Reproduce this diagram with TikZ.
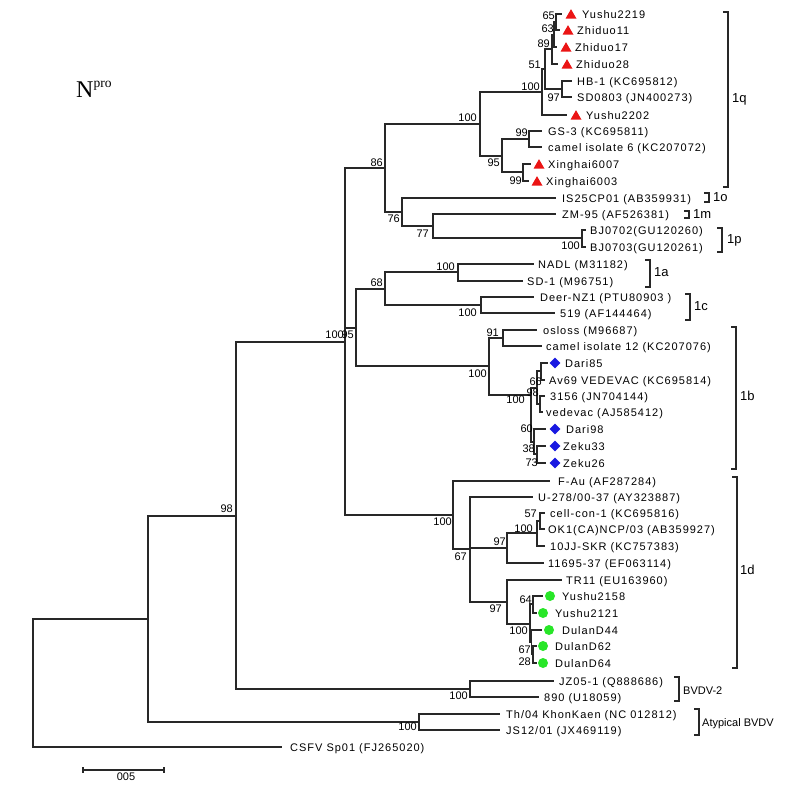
\documentclass[tikz,border=0pt]{standalone}
\usepackage{fontspec}
\setmainfont{Liberation Sans}
\newfontfamily\labfont[LetterSpace=9]{Liberation Sans}
\newfontfamily\seriffont{Liberation Serif}
\usetikzlibrary{shapes.geometric}
\definecolor{trired}{RGB}{235,20,20}
\definecolor{diablue}{RGB}{25,25,225}
\definecolor{dotgreen}{RGB}{40,230,40}
\definecolor{brcol}{RGB}{40,40,40}
\newcommand\leaf[5]{\coordinate (#1) at (#2,#3); \node[lab] (#1t) at (#4,{#3+4}) {#5};}
\begin{document}
\begin{tikzpicture}[x=1pt,y=-1pt,
  br/.style={draw=brcol, line width=1.3pt},
  lab/.style={font=\labfont\fontsize{11}{13}\selectfont, inner sep=0pt, anchor=base west},
  bs/.style={font=\fontsize{11}{13}\selectfont, inner sep=0pt, anchor=base east},
  grp/.style={font=\fontsize{13}{15}\selectfont, inner sep=0pt, anchor=base west},
  grs/.style={font=\fontsize{11}{13}\selectfont, inner sep=0pt, anchor=base west},
  tri/.style={regular polygon, regular polygon sides=3, fill=trired, inner sep=0pt, minimum size=12.7pt},
  dia/.style={diamond, fill=diablue, inner sep=0pt, minimum width=11pt, minimum height=11pt},
  gdot/.style={circle, fill=dotgreen, inner sep=0pt, minimum size=10pt}]
\useasboundingbox (0,0) rectangle (785,785);
\fill[white] (0,0) rectangle (785,785);

% title
\node[font=\seriffont\fontsize{24}{24}\selectfont, inner sep=0pt, anchor=base west] (title) at (76,97)
  {N\raisebox{9.5pt}{\fontsize{13.5}{13.5}\selectfont pro}};

% internal nodes
\coordinate (root) at (33,683);
\coordinate (nX) at (148,619);
\coordinate (nY) at (236,516);
\coordinate (nZ) at (345,342);
\coordinate (n86) at (385,168);
\coordinate (n100q) at (480,124);
\coordinate (nA) at (542,92);
\coordinate (nB) at (545,69);
\coordinate (nC) at (552,49);
\coordinate (nE) at (554,35);
\coordinate (nF) at (556,22);
\coordinate (nD) at (562,89);
\coordinate (n95) at (502,156);
\coordinate (n99a) at (529,139);
\coordinate (n99b) at (523,172);
\coordinate (n76) at (402,212);
\coordinate (n77) at (433,226);
\coordinate (n1p) at (582,238);
\coordinate (n95m) at (356,328);
\coordinate (n68) at (385,289);
\coordinate (n1a) at (458,272);
\coordinate (n1c) at (481,305);
\coordinate (n1b) at (489,366);
\coordinate (n91) at (503,338);
\coordinate (nIn) at (531,395);
\coordinate (nU) at (537,388);
\coordinate (n66) at (541,371);
\coordinate (nV) at (540,404);
\coordinate (nL) at (534,442);
\coordinate (n38) at (537,454);
\coordinate (n1d) at (453,515);
\coordinate (n67) at (470,549);
\coordinate (n97a) at (507,548);
\coordinate (n100c) at (537,533);
\coordinate (n57) at (540,521);
\coordinate (n97b) at (507,602);
\coordinate (n100g) at (530,624);
\coordinate (n64) at (533,604);
\coordinate (n67g) at (531.5,642);
\coordinate (n28) at (533,654);
\coordinate (nBV) at (470,689);
\coordinate (nAt) at (419,722);

% leaves
\leaf{l1}{562}{14}{582}{Yushu2219}
\leaf{l2}{560}{30}{577}{Zhiduo11}
\leaf{l3}{557}{47}{575}{Zhiduo17}
\leaf{l4}{558}{64}{576}{Zhiduo28}
\leaf{l5}{572}{81}{577}{HB-1 (KC695812)}
\leaf{l6}{572}{97}{577}{SD0803 (JN400273)}
\leaf{l7}{567}{115}{586}{Yushu2202}
\leaf{l8}{542}{131}{548}{GS-3 (KC695811)}
\leaf{l9}{542}{147}{548}{camel isolate 6 (KC207072)}
\leaf{l10}{531}{164}{548}{Xinghai6007}
\leaf{l11}{529}{181}{546}{Xinghai6003}
\leaf{l12}{556}{198}{562}{IS25CP01 (AB359931)}
\leaf{l13}{556}{214}{562}{ZM-95 (AF526381)}
\leaf{l14}{586}{230}{590}{BJ0702(GU120260)}
\leaf{l15}{586}{247}{590}{BJ0703(GU120261)}
\leaf{l16}{534}{264}{538}{NADL (M31182)}
\leaf{l17}{523}{281}{527}{SD-1 (M96751)}
\leaf{l18}{534}{297}{540}{Deer-NZ1 (PTU80903 )}
\leaf{l19}{555}{313}{560}{519 (AF144464)}
\leaf{l20}{537}{330}{543}{osloss (M96687)}
\leaf{l21}{542}{346}{546}{camel isolate 12 (KC207076)}
\leaf{l22}{548}{363}{565}{Dari85}
\leaf{l23}{545}{380}{549}{Av69 VEDEVAC (KC695814)}
\leaf{l24}{545}{396}{550}{3156 (JN704144)}
\leaf{l25}{543}{412}{546}{vedevac (AJ585412)}
\leaf{l26}{546}{429}{566}{Dari98}
\leaf{l27}{546}{446}{563}{Zeku33}
\leaf{l28}{546}{463}{563}{Zeku26}
\leaf{l29}{550}{481}{558}{F-Au (AF287284)}
\leaf{l30}{533}{497}{538}{U-278/00-37 (AY323887)}
\leaf{l31}{545}{513}{550}{cell-con-1 (KC695816)}
\leaf{l32}{545}{529}{548}{OK1(CA)NCP/03 (AB359927)}
\leaf{l33}{545}{546}{550}{10JJ-SKR (KC757383)}
\leaf{l34}{544}{563}{548}{11695-37 (EF063114)}
\leaf{l35}{562}{580}{566}{TR11 (EU163960)}
\leaf{l36}{543}{596}{562}{Yushu2158}
\leaf{l37}{537}{613}{555}{Yushu2121}
\leaf{l38}{542}{630}{562}{DulanD44}
\leaf{l39}{537}{646}{555}{DulanD62}
\leaf{l40}{537}{663}{555}{DulanD64}
\leaf{l41}{554}{681}{559}{JZ05-1 (Q888686)}
\leaf{l42}{539}{697}{544}{890 (U18059)}
\leaf{l43}{500}{714}{506}{Th/04 KhonKaen (NC 012812)}
\leaf{l44}{500}{730}{506}{JS12/01 (JX469119)}
\leaf{l45}{282}{747}{290}{CSFV Sp01 (FJ265020)}

% branches
\foreach \p/\c in {root/nX, root/l45, nX/nY, nX/nAt, nY/nZ, nY/nBV,
  nZ/n86, nZ/n95m, nZ/n1d, n86/n100q, n86/n76, n100q/nA, n100q/n95,
  nA/nB, nA/l7, nB/nC, nB/nD, nC/nE, nC/l4, nE/nF, nE/l3, nF/l1, nF/l2,
  nD/l5, nD/l6, n95/n99a, n95/n99b, n99a/l8, n99a/l9, n99b/l10, n99b/l11,
  n76/l12, n76/n77, n77/l13, n77/n1p, n1p/l14, n1p/l15,
  n95m/n68, n95m/n1b, n68/n1a, n68/n1c, n1a/l16, n1a/l17, n1c/l18, n1c/l19,
  n1b/n91, n1b/nIn, n91/l20, n91/l21, nIn/nU, nIn/nL, nU/n66, nU/nV,
  n66/l22, n66/l23, nV/l24, nV/l25, nL/l26, nL/n38, n38/l27, n38/l28,
  n1d/l29, n1d/n67, n67/l30, n67/n97a, n67/n97b, n97a/n100c, n97a/l34,
  n100c/n57, n100c/l33, n57/l31, n57/l32, n97b/l35, n97b/n100g,
  n100g/n64, n100g/n67g, n64/l36, n64/l37, n67g/l38, n67g/n28, n28/l39, n28/l40,
  nBV/l41, nBV/l42, nAt/l43, nAt/l44}
  \draw[br] (\p) |- (\c);

% markers
\foreach \n/\x/\y in {l1/571/14, l2/568/30, l3/566/47, l4/567/64, l7/576/115, l10/539/164, l11/537/181}
  \node[tri] (\n m) at (\x,{\y+1.5}) {};
\foreach \n/\x/\y in {l22/555/363, l26/555/429, l27/555/446, l28/555/463}
  \node[dia] (\n m) at (\x,\y) {};
\foreach \n/\x/\y in {l36/550/596, l37/543/613, l38/549/630, l39/543/646, l40/543/663}
  \node[gdot] (\n m) at (\x,\y) {};

% bootstrap values
\foreach \t/\x/\y [count=\i] in {98/233/508, 100/344/334, 95/354/334, 86/383/162, 100/477/117,
  100/540/86, 51/541/64, 89/550/43, 63/554/28, 65/555/15, 97/560/97, 99/528/132,
  95/500/162, 99/522/180, 76/400/218, 77/429/233, 100/580/245, 68/383/282,
  100/455/266, 100/477/312, 91/499/332, 100/487/373, 100/525/399, 98/539/392,
  66/542/381, 60/533/428, 38/535/448, 73/538/462, 100/452/521, 67/467/556,
  97/506/541, 100/533/528, 57/537/513, 97/502/608, 64/532/599, 100/528/630,
  67/531/649, 28/531/661, 100/468/695, 100/417/726}
  \node[bs] (bs\i) at (\x,{\y+4}) {\t};

% group brackets
\foreach \x/\a/\b in {728/12/187, 709/193/202, 689/211/218, 722/228/252, 650/260/287,
  690/294/320, 736/327/469, 737/477/668, 679/677/701, 699/709/735}
  \draw[br] ({\x-5},\a) -- (\x,\a) -- (\x,\b) -- ({\x-5},\b);
\node[grp] (g1q) at (732,102) {1q};
\node[grp] (g1o) at (713,201.5) {1o};
\node[grp] (g1m) at (693,218.5) {1m};
\node[grp] (g1p) at (727,243.5) {1p};
\node[grp] (g1a) at (654,276.5) {1a};
\node[grp] (g1c) at (694,310.5) {1c};
\node[grp] (g1b) at (740,400.5) {1b};
\node[grp] (g1d) at (740,574.5) {1d};
\node[grs] (gbv) at (683,694) {BVDV-2};
\node[grs] (gat) at (702,726) {Atypical BVDV};

% scale bar
\coordinate (sb1) at (83,770);
\coordinate (sb2) at (164,770);
\draw[br] (sb1) -- (sb2);
\draw[br] (83,767) -- (83,773);
\draw[br] (164,767) -- (164,773);
\node[font=\fontsize{11}{13}\selectfont, inner sep=0pt, anchor=base] (sbl) at (126,780) {005};
\end{tikzpicture}
\end{document}
